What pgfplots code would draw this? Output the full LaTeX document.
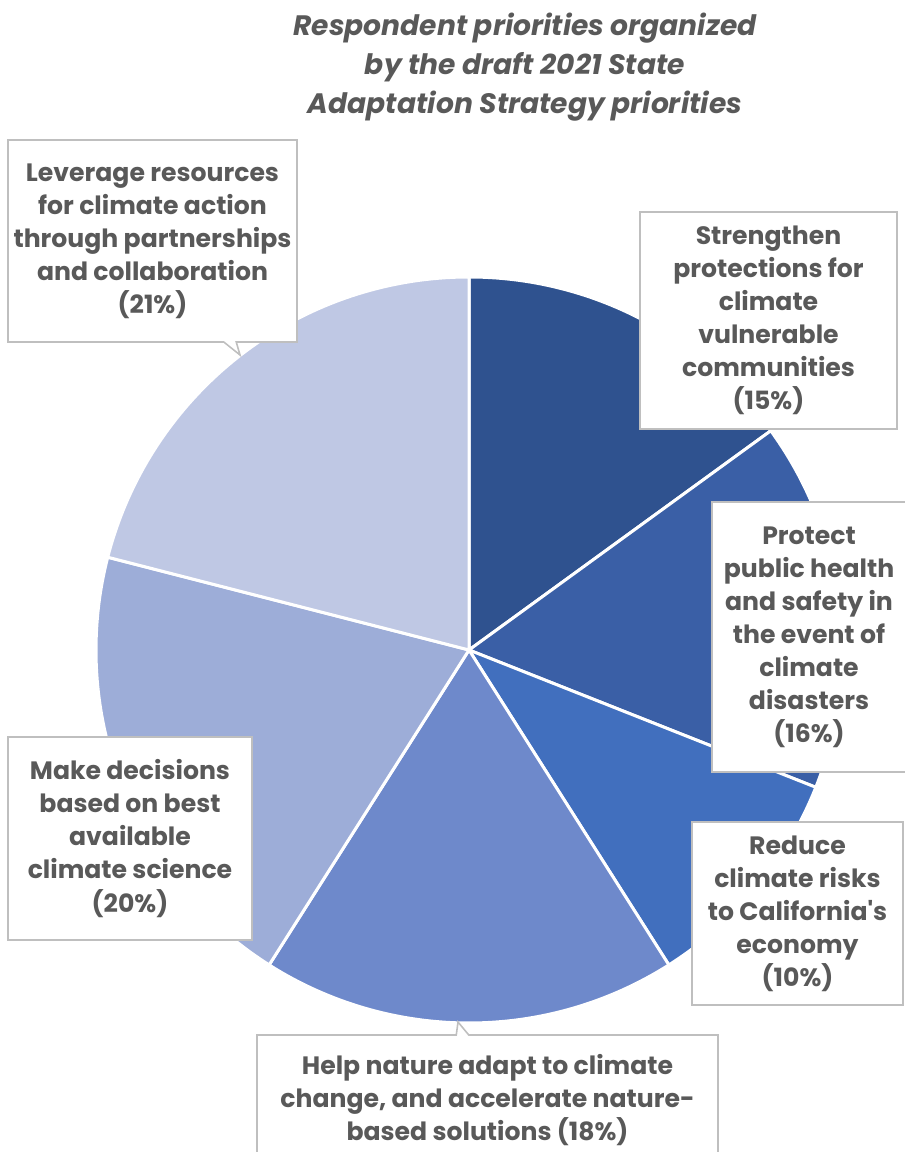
\documentclass[border=0pt]{standalone}
\usepackage{pgfplots}
\usepackage{pgfplotstable}
\usepackage{fontspec}
\setmainfont{Poppins}
\usetikzlibrary{shapes.callouts}
\pgfplotsset{compat=1.18}

\definecolor{s0}{HTML}{2F528F}
\definecolor{s1}{HTML}{3A5FA6}
\definecolor{s2}{HTML}{416FBE}
\definecolor{s3}{HTML}{6E89CB}
\definecolor{s4}{HTML}{9DADD8}
\definecolor{s5}{HTML}{BFC8E4}
\definecolor{txt}{HTML}{595959}
\definecolor{boxline}{HTML}{BFBFBF}

% share of respondents, clockwise from 12 o'clock
\pgfplotstableread{
pct
15
16
10
18
20
21
}\pietable

\begin{document}
\begin{tikzpicture}[
  lbl/.style={draw=boxline, line width=0.9pt, fill=white, text=txt,
    font=\fontsize{14.3}{18.8}\selectfont\bfseries, align=center, inner sep=0pt}
  ]
  \begin{axis}[
    scale only axis,
    width=18.08cm, height=23.04cm,
    xmin=0, xmax=904, ymin=0, ymax=1152,
    hide axis,
    clip=false
  ]
    \def\angstart{90}
    \pgfplotsforeachungrouped \i in {0,...,5} {
      \pgfplotstablegetelem{\i}{pct}\of\pietable
      \pgfmathsetmacro\angend{\angstart-3.6*\pgfplotsretval}
      \edef\slice{\noexpand\addplot[fill=s\i, draw=white, line width=1.7pt,
        domain=\angend:\angstart, samples=80, variable=\noexpand\t]
        ({469+373*cos(\noexpand\t)},{502+373*sin(\noexpand\t)})
        -- (axis cs:469,502) -- cycle;}
      \slice
      \global\let\angstart\angend
    }

    \node[font=\fontsize{16}{22.1}\selectfont\bfseries\itshape, text=txt, align=center]
      at (axis cs:525,1085) {Respondent priorities organized\\by the draft 2021 State\\Adaptation Strategy priorities};

    \node[lbl, rectangle callout, callout absolute pointer={(axis cs:240,797)},
      minimum width=5.78cm, minimum height=4.04cm]
      at (axis cs:152.5,911) {Leverage resources\\for climate action\\through partnerships\\and collaboration\\(21\%)};
    \node[lbl, minimum width=5.14cm, minimum height=4.34cm]
      at (axis cs:768.5,831.5) {Strengthen\\protections for\\climate\\vulnerable\\communities\\(15\%)};
    \node[lbl, minimum width=3.88cm, minimum height=5.4cm]
      at (axis cs:809,515) {Protect\\public health\\and safety in\\the event of\\climate\\disasters\\(16\%)};
    \node[lbl, minimum width=4.22cm, minimum height=3.66cm]
      at (axis cs:797.5,238.5) {Reduce\\climate risks\\to California\textquotesingle s\\economy\\(10\%)};
    \node[lbl, minimum width=4.88cm, minimum height=4.06cm]
      at (axis cs:130,313.5) {Make decisions\\based on best\\available\\climate science\\(20\%)};
    \node[lbl, rectangle callout, callout absolute pointer={(axis cs:458,130)},
      minimum width=9.22cm, minimum height=2.9cm]
      at (axis cs:487.5,44.5) {};
    \node[text=txt, font=\fontsize{14.3}{18.8}\selectfont\bfseries, align=center]
      at (axis cs:487.5,52) {Help nature adapt to climate\\change, and accelerate nature-\\based solutions (18\%)};
  \end{axis}
  \pgfresetboundingbox
  \useasboundingbox (current axis.south west) rectangle (current axis.north east);
\end{tikzpicture}
\end{document}
